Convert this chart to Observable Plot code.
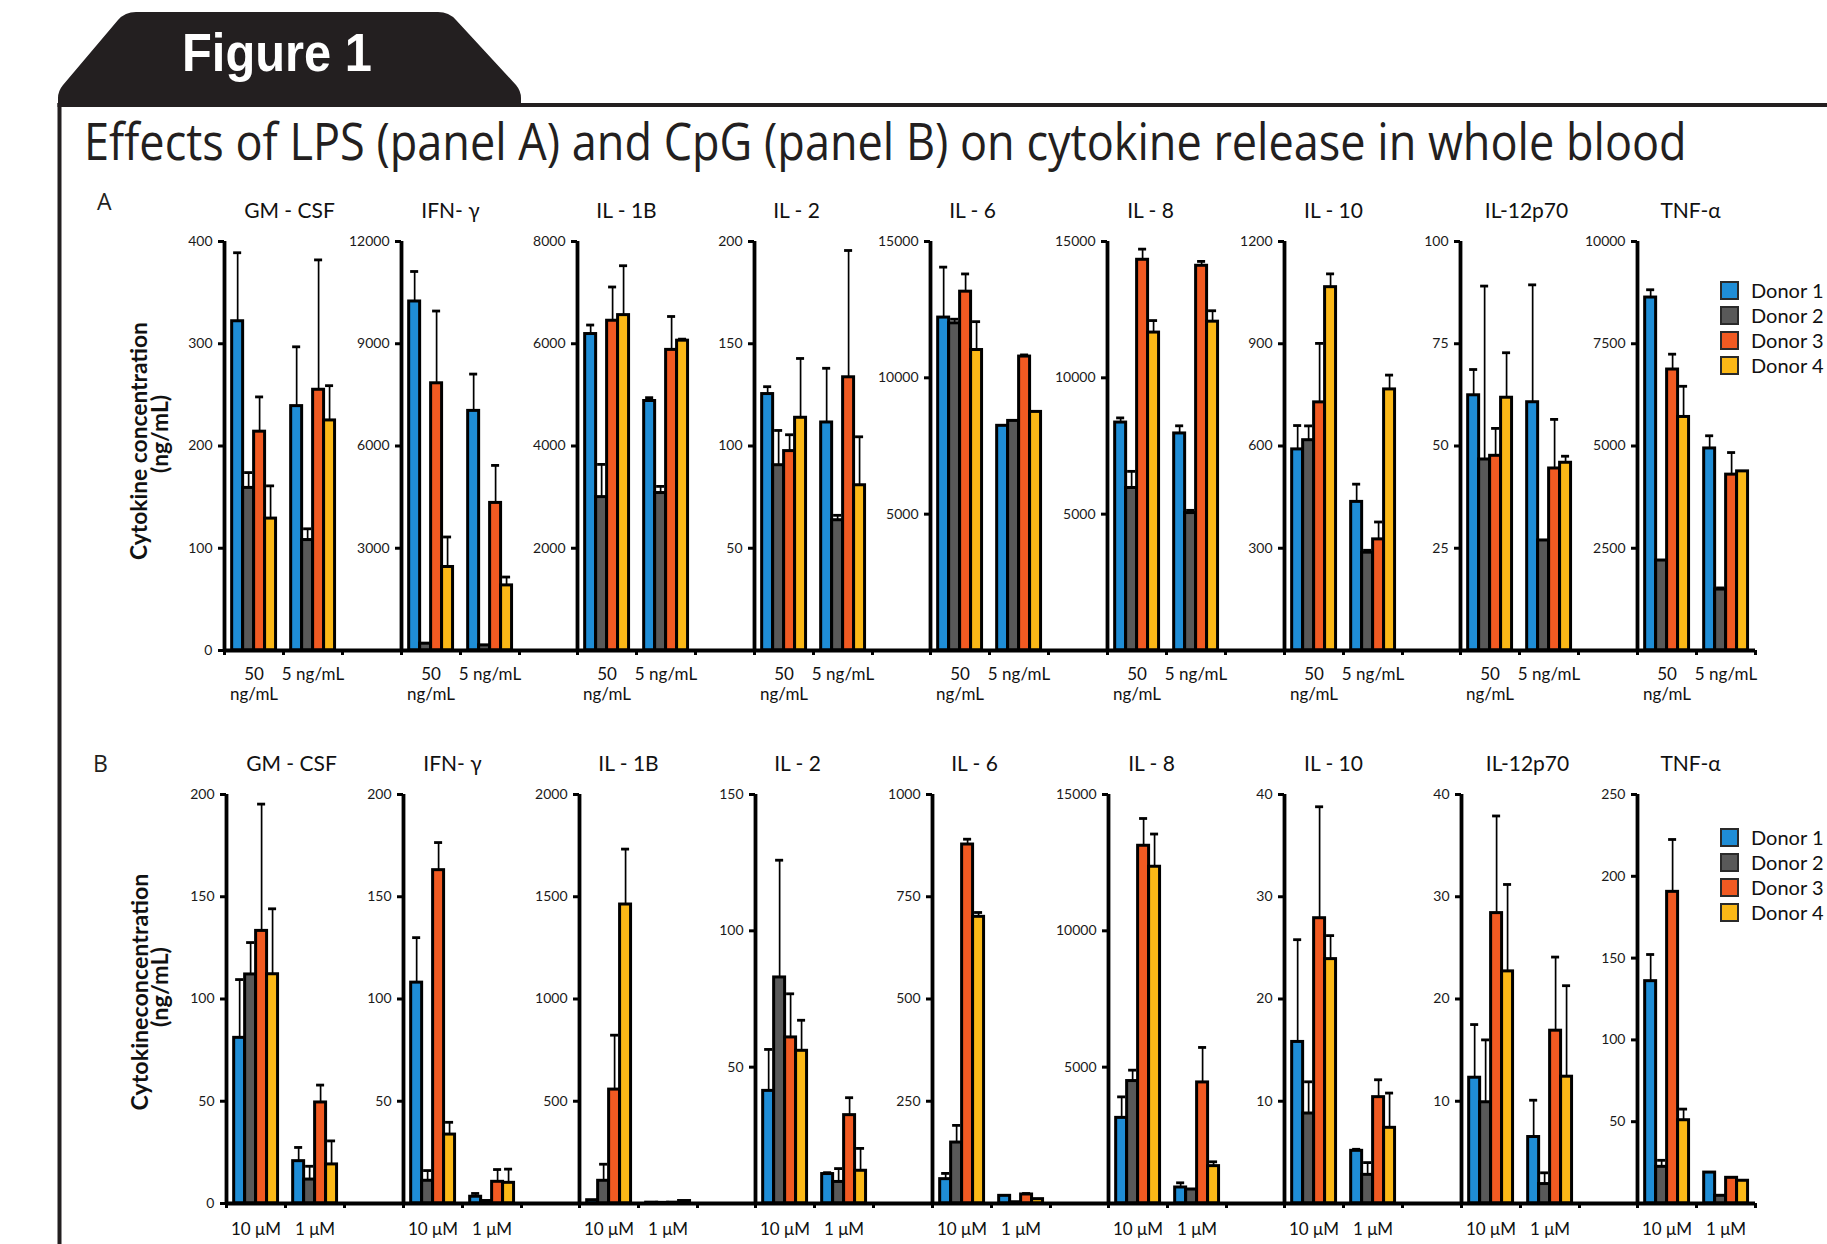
<!DOCTYPE html>
<html><head><meta charset="utf-8">
<script src="https://cdn.jsdelivr.net/npm/d3@7"></script>
<script src="https://cdn.jsdelivr.net/npm/@observablehq/plot@0.6"></script>
<style>
html,body{margin:0;padding:0;background:#fff;}
#page{position:relative;width:1827px;height:1244px;overflow:hidden;background:#fff;font-family:Lato,sans-serif;}
.chart{position:absolute;}
.chart svg{overflow:visible;}
.lg{position:absolute;font-family:Lato,sans-serif;font-size:20px;color:#111;white-space:nowrap;line-height:24px;}
.lgbox{position:absolute;width:19px;height:19px;box-sizing:border-box;border:2.5px solid #2a2a2a;}
</style></head><body><div id="page"></div>
<script>
// ---------------- data ----------------
const donors = ["Donor 1", "Donor 2", "Donor 3", "Donor 4"];
const donorColors = ["#1f8dd6", "#595959", "#f15a22", "#fbb817"];
const cytokines = ["GM - CSF", "IFN- γ", "IL - 1B", "IL - 2", "IL - 6", "IL - 8", "IL - 10", "IL-12p70", "TNF-α"];
const groupsA = ["50\nng/mL", "5 ng/mL"];
const groupsB = ["10 μM", "1 μM"];

const yTicksA = [[0,100,200,300,400],[3000,6000,9000,12000],[2000,4000,6000,8000],[50,100,150,200],
  [5000,10000,15000],[5000,10000,15000],[300,600,900,1200],[25,50,75,100],[2500,5000,7500,10000]];
const yTicksB = [[0,50,100,150,200],[50,100,150,200],[500,1000,1500,2000],[50,100,150],
  [250,500,750,1000],[5000,10000,15000],[10,20,30,40],[10,20,30,40],[50,100,150,200,250]];

// means[cytokine][group][donor]
const meansA = [
  [[322,159,214,129],[239,108,255,225]],
  [[10240,200,7840,2450],[7030,150,4330,1910]],
  [[6190,3000,6450,6560],[4880,3080,5880,6060]],
  [[125.4,90.6,97.5,113.8],[111.5,63.7,133.6,80.8]],
  [[12210,12000,13160,11020],[8240,8420,10780,8750]],
  [[8360,5960,14330,11660],[7960,5040,14110,12060]],
  [[590,617,728,1066],[436,287,326,766]],
  [[62.4,46.7,47.6,61.8],[60.7,26.9,44.5,45.9]],
  [[8630,2200,6870,5710],[4940,1490,4300,4380]]
];
const errsA = [
  [[67,15,34,32],[58,11,127,34]],
  [[880,0,2120,880],[1080,0,1100,245]],
  [[176,640,660,966],[65,130,653,30]],
  [[3.6,17,8,29],[26.5,2.4,62,23.7]],
  [[1850,150,650,1040],[0,0,60,0]],
  [[170,610,390,440],[280,100,160,400]],
  [[70,42,173,39],[52,7,51,42]],
  [[6.3,42.4,6.7,11],[28.7,0,12,1.6]],
  [[190,0,375,750],[310,40,540,0]]
];
const meansB = [
  [[81,112,133.3,112.1],[20.7,11.7,49.4,19.1]],
  [[108,11.1,163,33.7],[3.3,1.2,10.6,10.1]],
  [[16,111,557,1462],[4,3,4,12]],
  [[41.3,82.9,60.9,56],[10.8,7.9,32.4,12]],
  [[59.5,149,877.7,700.9],[18.7,3,22,10.6]],
  [[3140,4490,13120,12350],[587,513,4440,1370]],
  [[15.8,8.8,27.9,23.9],[5.15,2.8,10.4,7.4]],
  [[12.3,9.9,28.4,22.7],[6.5,1.9,16.9,12.4]],
  [[135.9,22.4,190.5,50.9],[18.9,4.7,15.7,13.9]]
];
const errsB = [
  [[28.5,15.6,62,32],[6.7,6.5,8.5,11.5]],
  [[22,5,13.5,6],[1.6,0,6,6.7]],
  [[0,81,266,271],[0,0,0,0]],
  [[15.2,43,16,11.2],[0.5,4.9,6.4,8.2]],
  [[14,42,13,10.6],[0,0,2.4,0]],
  [[770,400,1000,1200],[171,0,1283,159]],
  [[10,3.1,10.9,2.3],[0.15,1.2,1.7,3.4]],
  [[5.2,6.1,9.5,8.5],[3.6,1.1,7.2,8.9]],
  [[16.3,4,32,6.8],[0,0,0,0]]
];

// ---------------- layout ----------------
const page = document.getElementById("page");
const titleDx = [65, 49, 49, 42, 42, 43, 49, 66, 53];
const panels = [
  {means: meansA, errs: errsA, ticks: yTicksA, groups: groupsA, axis0: 224, step: 176.6,
   top: 190, height: 520, mt: 51, mb: 60, labelDy: 15, legendTop: 281},
  {means: meansB, errs: errsB, ticks: yTicksB, groups: groupsB, axis0: 226.3, step: 176.35,
   top: 740, height: 504, mt: 54, mb: 41, labelDy: 17, legendTop: 828}
];

// header / frame (drawn underneath)
const head = d3.create("svg").attr("width", 1827).attr("height", 1244)
  .style("position", "absolute").style("left", "0px").style("top", "0px");
head.append("line").attr("x1", 59.5).attr("x2", 59.5).attr("y1", 103).attr("y2", 1244)
  .attr("stroke", "#231f20").attr("stroke-width", 4);
head.append("line").attr("x1", 57.5).attr("x2", 1827).attr("y1", 105).attr("y2", 105)
  .attr("stroke", "#231f20").attr("stroke-width", 4);
head.append("path")
  .attr("d", "M58,107 L58,98 Q58,91 63,85 L118,20 Q125,12 136,12 L438,12 Q449,12 456,20 L516,85 Q521,91 521,98 L521,107 Z")
  .attr("fill", "#231f20");
page.appendChild(head.node());

// text fitted to a target width with a horizontal scale transform
function fitText(parent, {x, y, text, width, anchor = "start", rotate = 0, attrs = {}}) {
  const g = parent.append("g").attr("transform", `translate(${x},${y}) rotate(${rotate})`);
  const t = g.append("text").attr("text-anchor", anchor).text(text);
  Object.entries(attrs).forEach(([k, v]) => t.attr(k, v));
  const len = t.node().getComputedTextLength();
  const s = len > 0 ? width / len : 1;
  t.attr("transform", `scale(${s},1)`);
  return t;
}
fitText(head, {x: 277, y: 71, text: "Figure 1", width: 190, anchor: "middle",
  attrs: {"font-family": "'Liberation Sans',Arial,sans-serif", "font-weight": "bold", "font-size": 54, fill: "#fff"}});
fitText(head, {x: 84, y: 160, text: "Effects of LPS (panel A) and CpG (panel B) on cytokine release in whole blood",
  width: 1603, attrs: {"font-family": "'Open Sans','Noto Sans',sans-serif", "font-size": 51, fill: "#231f20"}});
head.append("text").attr("x", 97).attr("y", 210).attr("font-family", "'Open Sans',sans-serif")
  .attr("font-size", 23).attr("fill", "#231f20").text("A");
head.append("text").attr("x", 93).attr("y", 772).attr("font-family", "'Open Sans',sans-serif")
  .attr("font-size", 23).attr("fill", "#231f20").text("B");
const ylab = [
  {x: 147, y: 441, t: "Cytokine concentration", len: 238},
  {x: 168, y: 434, t: "(ng/mL)", len: 78},
  {x: 148, y: 992, t: "Cytokineconcentration", len: 237},
  {x: 168, y: 987, t: "(ng/mL)", len: 80}
];
ylab.forEach(d => fitText(head, {x: d.x, y: d.y, text: d.t, width: d.len, anchor: "middle", rotate: -90,
  attrs: {"font-family": "Lato,sans-serif", "font-weight": "bold", "font-size": 22, fill: "#111"}}));

const L = 62;          // left margin inside each chart svg
const groupPx = 59;    // width of one concentration group
const bx0 = 0.13, bw = 0.186, capHalf = 0.068;

panels.forEach(P => {
  cytokines.forEach((name, i) => {
    const last = i === cytokines.length - 1;
    const rows = [];
    P.groups.forEach((g, gi) => donors.forEach((d, di) => rows.push({
      gi, di, donor: d, v: P.means[i][gi][di], e: P.errs[i][gi][di]
    })));
    const withErr = rows.filter(r => r.e > 0);
    const ticks = P.ticks[i];
    const ymax = d3.max(ticks);
    const W = L + (last ? 2 * groupPx + 12 : P.step);
    const cx = r => r.gi + bx0 + (r.di + 0.5) * bw;
    const svg = Plot.plot({
      width: W, height: P.height,
      marginLeft: L, marginRight: 0, marginTop: P.mt, marginBottom: P.mb,
      x: {type: "linear", domain: [0, 2], range: [L, L + 2 * groupPx], label: null},
      y: {domain: [0, ymax], label: null},
      color: {domain: donors, range: donorColors},
      style: {background: "none", overflow: "visible", fontFamily: "Lato, sans-serif", color: "#000"},
      marks: [
        Plot.rect(rows, {
          x1: r => r.gi + bx0 + r.di * bw, x2: r => r.gi + bx0 + (r.di + 1) * bw,
          y1: 0, y2: "v", fill: "donor", stroke: "#000", strokeWidth: 3
        }),
        Plot.ruleX(withErr, {x: cx, y1: "v", y2: r => r.v + r.e, stroke: "#000", strokeWidth: 1.7}),
        Plot.ruleY(withErr, {y: r => r.v + r.e, x1: r => cx(r) - capHalf, x2: r => cx(r) + capHalf,
          stroke: "#000", strokeWidth: 2.8}),
        Plot.ruleY([0], {x1: 0, x2: last ? 2 : 2 + (P.step - 2 * groupPx) / groupPx, stroke: "#000", strokeWidth: 3.8}),
        Plot.ruleX([0], {y1: 0, y2: ymax, stroke: "#000", strokeWidth: 3.8}),
        Plot.axisY({ticks, tickSize: 6, tickPadding: 6, strokeWidth: 3, fontSize: 14, fill: "#1a1a1a",
          tickFormat: d => String(d), label: null}),
        Plot.axisX({ticks: [0, 1, 2], tickSize: 5, strokeWidth: 3, tickFormat: () => "", label: null}),
        Plot.text(P.groups, {x: (d, k) => k + 0.5, y: 0, text: d => d, dy: P.labelDy,
          lineAnchor: "top", fontSize: 17, lineHeight: 1.18, fill: "#111"}),
        Plot.text([name], {frameAnchor: "top-left", dx: titleDx[i], dy: -30, lineAnchor: "middle",
          textAnchor: "middle", fontSize: 21, fill: "#111"})
      ]
    });
    const div = document.createElement("div");
    div.className = "chart";
    div.style.left = (P.axis0 + i * P.step - L) + "px";
    div.style.top = P.top + "px";
    div.appendChild(svg);
    page.appendChild(div);
  });
  // legend
  donors.forEach((d, k) => {
    const box = document.createElement("div");
    box.className = "lgbox";
    box.style.left = "1720px";
    box.style.top = (P.legendTop + k * 25) + "px";
    box.style.background = donorColors[k];
    page.appendChild(box);
    const t = document.createElement("div");
    t.className = "lg";
    t.style.left = "1751px";
    t.style.top = (P.legendTop + k * 25 - 3) + "px";
    t.textContent = d;
    page.appendChild(t);
  });
});
</script></body></html>
